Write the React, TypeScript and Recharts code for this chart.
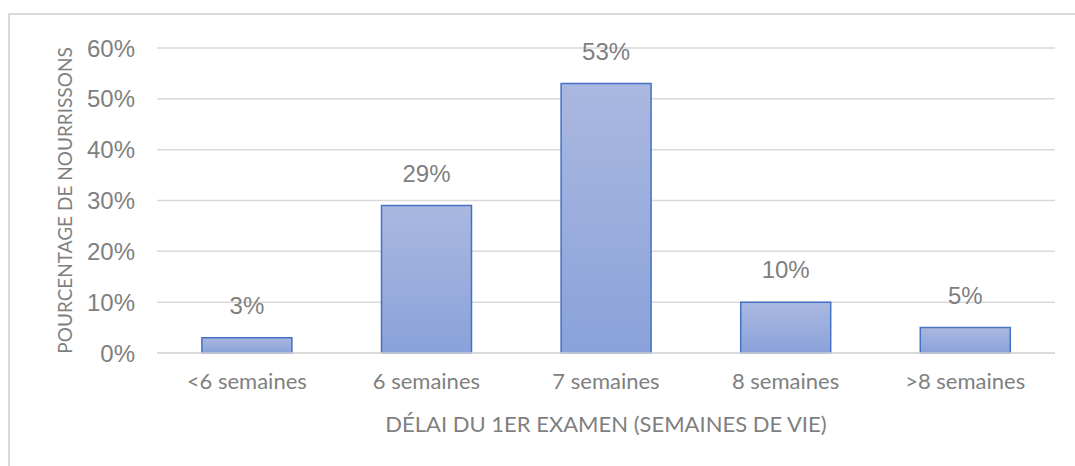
import { BarChart, Bar, XAxis, YAxis, CartesianGrid, LabelList } from 'recharts';

const CATEGORIES = ['<6 semaines', '6 semaines', '7 semaines', '8 semaines', '>8 semaines'];
const VALUES = [3, 29, 53, 10, 5];
const Y_TICKS = [0, 10, 20, 30, 40, 50, 60];

const GRIS = '#7f7f7f';
const CAL = 'Lato, "Open Sans", sans-serif';
const ARIAL = '"Liberation Sans", Arial, sans-serif';

const rows = CATEGORIES.map((c, i) => ({ cat: c, val: VALUES[i] }));

export default function App() {
  return (
    <div style={{ position: 'absolute', left: 0, top: 0, width: 1075, height: 466, background: '#fff', overflow: 'hidden' }}>
      <div style={{ position: 'absolute', left: 8, top: 13, width: 1100, height: 500, border: '2px solid #d9d9d9', boxSizing: 'border-box' }} />
      <BarChart
        width={1075}
        height={466}
        data={rows}
        margin={{ top: 48, right: 20, left: 0, bottom: 30 }}
        barCategoryGap="25%"
        style={{ position: 'absolute', left: 0, top: 0 }}
      >
        <defs>
          <linearGradient id="grad" x1="0" y1="0" x2="0" y2="1">
            <stop offset="0%" stopColor="#aab8e0" />
            <stop offset="100%" stopColor="#8aa2da" />
          </linearGradient>
        </defs>
        <CartesianGrid vertical={false} stroke="#d9d9d9" strokeWidth={1.5} />
        <XAxis
          dataKey="cat"
          height={83}
          axisLine={{ stroke: '#d9d9d9', strokeWidth: 1.5 }}
          tickLine={false}
          tickMargin={14}
          tick={{ fontSize: 22, fill: GRIS, fontFamily: CAL }}
          interval={0}
          label={{
            value: 'DÉLAI DU 1ER EXAMEN (SEMAINES DE VIE)',
            position: 'insideBottom',
            offset: 4,
            fontSize: 22,
            fill: GRIS,
            fontFamily: CAL,
          }}
        />
        <YAxis
          width={157}
          domain={[0, 60]}
          ticks={Y_TICKS}
          axisLine={false}
          tickLine={false}
          tickMargin={16}
          tickFormatter={(v) => `${v}%`}
          tick={{ fontSize: 24, fill: GRIS, fontFamily: ARIAL }}
          label={{
            value: 'POURCENTAGE DE NOURRISSONS',
            angle: -90,
            position: 'insideLeft',
            offset: 65,
            fontSize: 19,
            fill: GRIS,
            fontFamily: CAL,
            style: { textAnchor: 'middle' },
          }}
        />
        <Bar dataKey="val" fill="url(#grad)" stroke="#4472c4" strokeWidth={1.5} isAnimationActive={false}>
          <LabelList
            dataKey="val"
            position="top"
            offset={24}
            formatter={(v: number) => `${v}%`}
            style={{ fontSize: 24, fill: GRIS, fontFamily: ARIAL }}
          />
        </Bar>
      </BarChart>
    </div>
  );
}
